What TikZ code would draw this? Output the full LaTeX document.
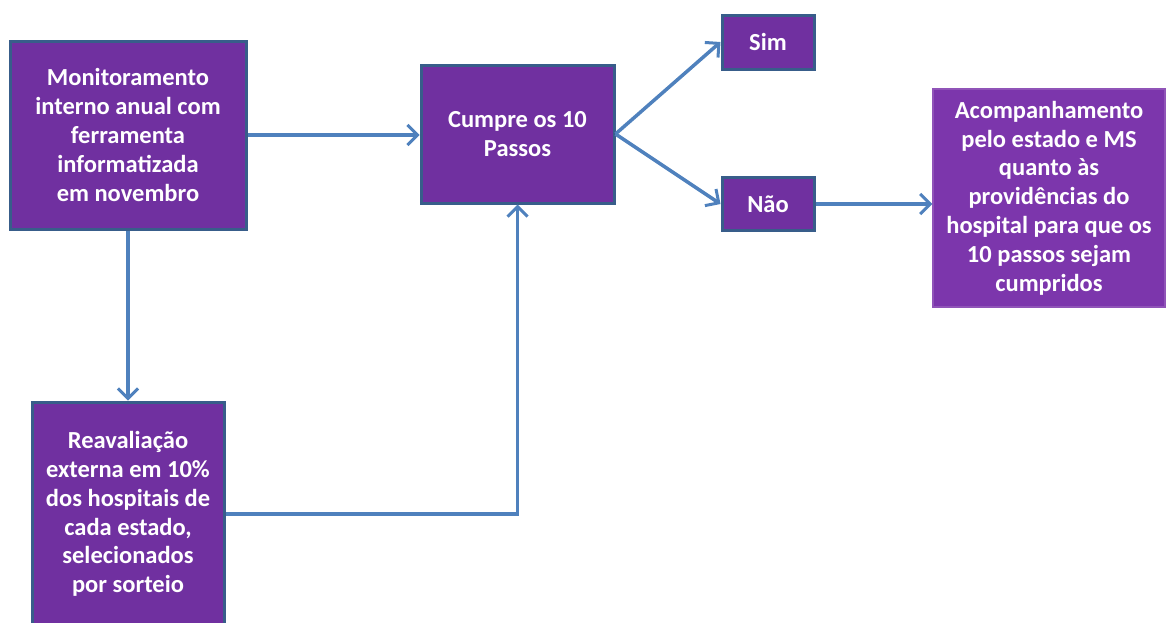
\documentclass[tikz,border=0pt]{standalone}
\usepackage{fontspec}
\setmainfont{Carlito}
\usetikzlibrary{arrows.meta}
\definecolor{boxpurple}{RGB}{112,48,160}
\definecolor{boxedge}{RGB}{56,93,138}
\definecolor{arrowblue}{RGB}{79,129,189}
\definecolor{lightpurple}{RGB}{124,54,172}

\begin{document}
\begin{tikzpicture}[x=1pt, y=-1pt,
        box/.style={rectangle, draw=boxedge, line width=3pt, fill=boxpurple, text=white,
                    font=\fontsize{24.5}{28.8}\selectfont\bfseries, align=center, inner sep=0pt},
        link/.style={draw=arrowblue, line width=3.5pt, -{Straight Barb[length=10pt, width=20pt, line width=3pt]}}]
        \useasboundingbox (0,0) rectangle (1166,622);

        % Boxes
        \node[box, minimum width=236, minimum height=188] (mon) at (128,135)
            {Monitoramento\\interno anual com\\ferramenta\\informatizada\\em novembro};
        \node[box, minimum width=192, minimum height=224] (reav) at (128,514)
            {Reavaliação\\externa em 10\%\\dos hospitais de\\cada estado,\\selecionados\\por sorteio};
        \node[box, minimum width=193, minimum height=138] (cumpre) at (517.5,134)
            {Cumpre os 10\\Passos};
        \node[box, minimum width=92, minimum height=54] (sim) at (768,42) {Sim};
        \node[box, minimum width=92, minimum height=53] (nao) at (768,204) {Não};
        \node[box, draw=lightpurple!85!white, line width=1.5pt, fill=lightpurple,
              minimum width=232, minimum height=218] (acomp) at (1049,198)
            {Acompanhamento\\pelo estado e MS\\quanto às\\providências do\\hospital para que os\\10 passos sejam\\cumpridos};

        % Connectors
        \draw[link] (mon.east) -- (mon.east -| cumpre.west);
        \draw[link] (mon.south) -- (reav.north);
        \draw[link] (reav.east) -| (cumpre.south);
        \draw[link] (cumpre.east) -- (sim.west);
        \draw[link] (cumpre.east) -- (nao.west);
        \draw[link] (nao.east) -- (nao.east -| acomp.west);
\end{tikzpicture}
\end{document}
